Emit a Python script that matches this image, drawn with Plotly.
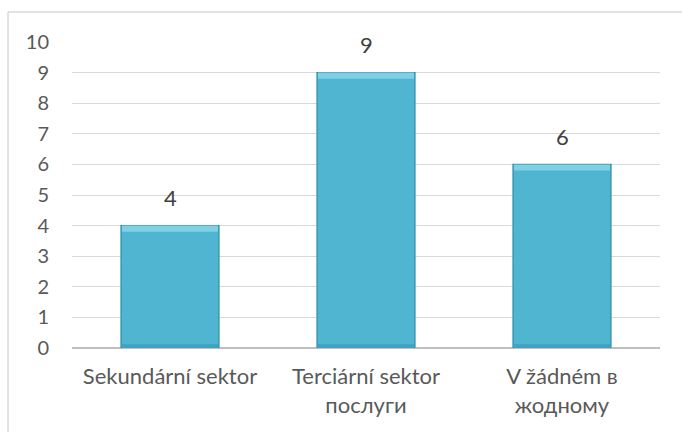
import plotly.graph_objects as go

categories = ["Sekundární sektor", "Terciární sektor<br>послуги", "V žádném в<br>жодному"]
values = [4, 9, 6]
tick_vals = list(range(0, 11))

FONT = "Lato"
bevel_top = 0.2
bevel_bot = 0.12

fig = go.Figure()
# main body
fig.add_trace(go.Bar(
    x=categories, y=values, width=0.5,
    marker=dict(color="#4FB5D1", line=dict(color="#2E8FAB", width=1.2)),
    hoverinfo="skip",
))
# bottom darker strip
fig.add_trace(go.Bar(
    x=categories, y=[bevel_bot] * len(values), base=[0] * len(values), width=0.49,
    marker=dict(color="#3FA2C0", line=dict(width=0)),
    hoverinfo="skip",
))
# top lighter bevel
fig.add_trace(go.Bar(
    x=categories, y=[bevel_top] * len(values), base=[v - bevel_top for v in values], width=0.49,
    marker=dict(color="#7FCFE5", line=dict(width=0)),
    hoverinfo="skip",
))

annotations = [
    dict(x=c, y=v, text=str(v), showarrow=False, yshift=28, xref="x", yref="y",
         font=dict(family=FONT, size=22, color="#404040"))
    for c, v in zip(categories, values)
]

fig.update_layout(
    width=682, height=432,
    margin=dict(l=72, r=22, t=42, b=84),
    paper_bgcolor="white", plot_bgcolor="white",
    font=dict(family=FONT, size=22, color="#595959"),
    showlegend=False,
    barmode="overlay",
    xaxis=dict(showgrid=False, showline=False, ticks="", ticklabelstandoff=13,
               tickfont=dict(size=22, color="#595959")),
    yaxis=dict(range=[0, 10], tickvals=tick_vals, showgrid=True, gridcolor="#D9D9D9",
               gridwidth=1, zeroline=True, zerolinecolor="#BFBFBF", zerolinewidth=1.5,
               ticks="", ticklabelstandoff=22, tickfont=dict(size=20, color="#595959")),
    annotations=annotations,
    shapes=[
        dict(type="line", xref="paper", yref="paper", x0=-0.1088, x1=-0.1088, y0=-0.3, y1=1.098,
             line=dict(color="#D9D9D9", width=1.5)),
        dict(type="line", xref="paper", yref="paper", x0=-0.1088, x1=1.1, y0=1.098, y1=1.098,
             line=dict(color="#D9D9D9", width=1.5)),
    ],
)

fig.write_html("out.html")
